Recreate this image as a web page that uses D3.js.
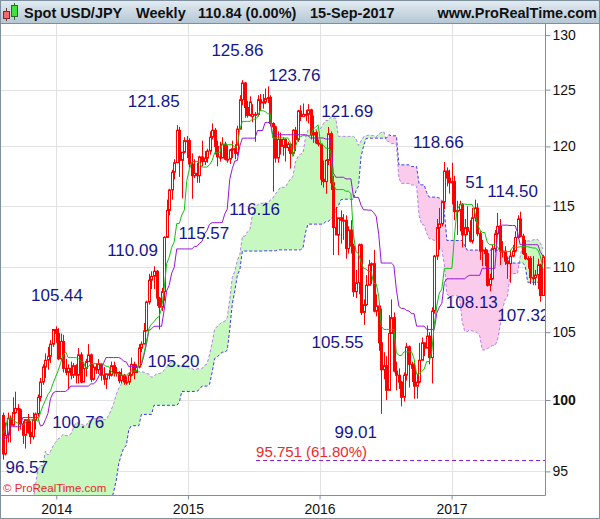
<!DOCTYPE html>
<html>
<head>
<meta charset="utf-8">
<script src="https://cdn.jsdelivr.net/npm/d3@7"></script>
<style>
  body { margin: 0; background: #fff; }
  svg { display: block; font-family: "Liberation Sans", Arial, sans-serif; }
</style>
</head>
<body>
<script>
// weekly bars, one per Monday, Aug 2013 - Sep 2017
var weeks = d3.timeMonday.range(new Date(2013, 7, 5), new Date(2017, 8, 12));

var opens = [
  98.9, 96.2, 97.5, 98.7, 98.2, 99.1, 99.4, 99.3, 98.3, 97.5, 98.6, 97.7, 97.4, 98.6, 99.0, 100.2, 101.3, 102.4, 102.9, 103.2, 104.1, 105.2,
  104.9, 103.0, 104.3, 102.3, 102.0, 102.3, 101.8, 102.5, 101.8, 103.3, 101.3, 102.3, 102.8, 103.3, 101.5, 102.4, 102.2, 102.6, 101.8, 101.5, 101.9, 101.8, 102.5, 102.0, 102.0, 101.4, 101.8, 101.3, 101.3, 101.8, 102.6, 102.0, 102.4, 103.8, 104.1, 105.1, 107.3, 109.0, 109.3, 109.7, 107.6, 106.9, 108.1, 112.4, 114.6, 116.3, 117.8, 118.6, 121.4, 118.8, 119.5, 120.5,
  120.5, 118.5, 117.5, 117.7, 117.5, 119.1, 118.7, 119.0, 119.6, 120.8, 121.4, 120.0, 119.1, 119.0, 120.2, 118.9, 118.9, 119.7, 119.8, 119.4, 121.5, 124.1, 125.6, 123.4, 122.7, 122.6, 122.8, 122.8, 124.1, 123.8, 123.9, 124.2, 124.3, 122.0, 121.7, 119.0, 120.6, 120.0, 120.6, 119.9, 120.2, 119.4, 121.4, 120.6, 123.1, 122.6, 122.8, 122.8, 123.2, 121.0, 121.2, 120.3,
  120.2, 117.2, 117.0, 118.8, 121.1, 116.9, 113.2, 112.6, 114.0, 113.8, 113.8, 111.5, 113.0, 111.7, 108.1, 108.8, 111.8, 106.5, 107.1, 108.6, 110.2, 110.3, 106.6, 107.0, 104.2, 102.2, 102.5, 100.7, 104.9, 106.1, 102.1, 101.8, 101.3, 100.2, 101.8, 103.9, 102.6, 102.3, 101.0, 101.3, 102.9, 104.2, 103.8, 104.7, 103.1, 106.6, 110.9, 113.2, 113.5, 115.3, 117.9, 117.3,
  116.9, 117.0, 114.5, 114.6, 115.1, 112.6, 113.2, 112.9, 112.1, 114.0, 114.8, 112.7, 111.3, 111.4, 111.1, 108.6, 109.1, 111.5, 112.7, 113.3, 111.3, 111.3, 110.5, 110.3, 110.9, 111.3, 112.4, 113.9, 112.5, 111.1, 110.7, 110.7, 109.2, 109.2, 109.4, 110.2, 107.8
];
var highs = [
  99.1, 98.4, 99.1, 98.9, 100.2, 100.6, 99.7, 99.4, 98.5, 98.6, 99.0, 98.5, 99.1, 99.1, 100.4, 101.6, 102.6, 103.4, 103.9, 104.4, 105.2, 105.44,
  105.3, 104.9, 104.8, 103.0, 102.6, 102.8, 102.7, 102.6, 103.8, 103.5, 102.7, 103.0, 104.1, 103.4, 102.6, 102.7, 103.0, 102.7, 102.4, 101.9, 102.2, 102.8, 102.8, 102.4, 102.1, 102.3, 101.9, 101.7, 102.0, 103.1, 102.8, 102.6, 104.1, 104.3, 105.7, 107.4, 109.5, 109.7, 110.09, 109.8, 107.7, 108.4, 112.5, 115.5, 116.4, 118.0, 118.9, 121.85, 121.7, 119.5, 120.8, 120.9,
  120.7, 119.4, 118.9, 118.6, 119.2, 120.5, 119.6, 119.8, 121.3, 122.0, 121.6, 120.5, 120.4, 120.8, 120.4, 120.1, 119.8, 120.5, 120.2, 121.8, 124.5, 125.86, 125.7, 124.0, 124.4, 123.7, 123.0, 124.5, 124.6, 124.6, 125.1, 125.3, 124.5, 122.1, 121.8, 121.3, 121.2, 120.8, 120.7, 120.4, 120.3, 121.5, 121.7, 123.2, 123.6, 123.76, 123.2, 123.7, 123.3, 122.7, 121.4, 120.6,
  120.2, 118.8, 118.9, 121.69, 121.3, 117.5, 114.9, 114.0, 114.6, 114.3, 114.2, 113.3, 113.8, 111.9, 109.8, 111.9, 111.9, 107.5, 109.4, 110.6, 110.4, 111.4, 107.9, 107.2, 106.8, 103.5, 103.2, 106.3, 107.5, 106.5, 102.8, 102.3, 101.4, 102.0, 104.2, 104.0, 102.8, 102.7, 101.9, 104.2, 104.6, 104.2, 105.5, 105.0, 106.9, 111.0, 113.9, 114.8, 115.4, 118.66, 118.2, 118.0,
  118.6, 117.5, 115.4, 115.4, 115.2, 113.9, 114.95, 113.8, 114.8, 115.5, 115.2, 112.9, 112.2, 111.6, 111.4, 109.5, 111.8, 113.0, 114.4, 113.9, 112.1, 111.7, 110.8, 111.4, 111.8, 112.9, 114.2, 114.50, 112.7, 112.2, 110.9, 110.9, 110.9, 109.8, 110.7, 110.3, 111.0
];
var lows = [
  95.8, 96.1, 97.0, 97.0, 98.2, 99.0, 97.8, 97.9, 96.9, 96.57, 97.6, 96.9, 97.2, 97.9, 98.8, 99.9, 101.1, 101.6, 102.2, 102.7, 103.9, 104.2,
  102.9, 102.9, 102.0, 101.8, 100.76, 101.5, 101.6, 101.2, 101.2, 101.2, 101.3, 101.7, 102.8, 101.3, 101.4, 101.9, 101.9, 101.4, 101.1, 100.8, 101.5, 101.7, 101.7, 101.7, 101.2, 101.2, 101.1, 101.1, 101.1, 101.7, 101.5, 102.0, 102.3, 103.5, 104.1, 105.1, 107.1, 108.3, 108.3, 107.0, 105.2, 106.6, 107.4, 112.4, 114.2, 115.5, 117.2, 118.6, 117.4, 115.6, 119.4, 119.0,
  118.2, 115.57, 117.3, 116.9, 116.9, 118.3, 118.4, 118.6, 119.3, 120.6, 119.3, 118.3, 118.7, 119.0, 118.8, 118.6, 118.5, 119.0, 118.9, 119.2, 121.5, 123.6, 122.5, 122.5, 122.6, 122.1, 120.4, 122.6, 123.1, 123.3, 123.7, 123.8, 121.8, 116.16, 118.6, 118.6, 119.3, 119.2, 118.7, 119.6, 118.1, 119.2, 119.6, 120.4, 122.2, 122.6, 122.2, 122.0, 120.6, 120.3, 120.2, 120.0,
  116.7, 116.5, 115.98, 118.4, 116.3, 110.98, 112.6, 110.99, 111.9, 112.2, 110.7, 111.1, 111.1, 107.7, 107.6, 107.9, 106.3, 105.55, 107.0, 108.6, 108.7, 106.5, 106.2, 103.6, 99.01, 101.5, 99.99, 100.7, 104.9, 102.0, 100.7, 100.8, 99.55, 99.9, 101.4, 100.9, 101.3, 100.1, 100.1, 101.2, 102.9, 103.2, 103.8, 102.6, 101.2, 106.4, 110.6, 111.4, 113.3, 114.7, 116.6, 116.0,
  115.1, 113.8, 112.6, 112.9, 111.6, 111.6, 112.6, 112.0, 111.9, 113.7, 112.5, 110.6, 110.1, 110.1, 108.5, 108.13, 109.0, 111.2, 112.6, 110.2, 110.8, 110.2, 109.1, 108.8, 110.8, 111.2, 112.3, 112.4, 111.0, 110.6, 109.9, 108.7, 108.6, 108.6, 108.3, 107.32, 107.8
];
var closes = [
  96.2, 97.5, 98.7, 98.2, 99.1, 99.4, 99.3, 98.3, 97.5, 98.6, 97.7, 97.4, 98.6, 99.0, 100.2, 101.3, 102.4, 102.9, 103.2, 104.1, 105.2, 104.9,
  103.0, 104.3, 102.3, 102.0, 102.3, 101.8, 102.5, 101.8, 103.3, 101.3, 102.3, 102.8, 103.3, 101.5, 102.4, 102.2, 102.6, 101.8, 101.5, 101.9, 101.8, 102.5, 102.0, 102.0, 101.4, 101.8, 101.3, 101.3, 101.8, 102.6, 102.0, 102.4, 103.8, 104.1, 105.1, 107.3, 109.0, 109.3, 109.7, 107.6, 106.9, 108.1, 112.4, 114.6, 116.3, 117.8, 118.6, 121.4, 118.8, 119.5, 120.5, 120.5,
  118.5, 117.5, 117.7, 117.5, 119.1, 118.7, 119.0, 119.6, 120.8, 121.4, 120.0, 119.1, 119.0, 120.2, 118.9, 118.9, 119.7, 119.8, 119.4, 121.5, 124.1, 125.6, 123.4, 122.7, 123.9, 122.8, 122.8, 124.1, 123.8, 123.9, 124.2, 124.3, 122.0, 121.7, 119.0, 120.6, 120.0, 120.6, 119.9, 120.2, 119.4, 121.4, 120.6, 123.1, 122.6, 122.8, 122.8, 123.2, 121.0, 121.2, 120.3, 120.2,
  117.2, 117.0, 118.8, 121.1, 116.9, 113.2, 112.6, 114.0, 113.8, 113.8, 111.5, 113.0, 111.7, 108.1, 108.8, 111.8, 106.5, 107.1, 108.6, 110.2, 110.3, 106.6, 107.0, 104.2, 102.2, 102.5, 100.7, 104.9, 106.1, 102.1, 101.8, 101.3, 100.2, 101.8, 103.9, 102.6, 102.3, 101.0, 101.3, 102.9, 104.2, 103.8, 104.7, 103.1, 106.6, 110.9, 113.2, 113.5, 115.3, 117.9, 117.3, 116.9,
  117.0, 114.5, 114.6, 115.1, 112.6, 113.2, 112.9, 112.1, 114.0, 114.8, 112.7, 111.3, 111.4, 111.1, 108.6, 109.1, 111.5, 112.7, 113.3, 111.3, 111.3, 110.5, 110.3, 110.9, 111.3, 112.4, 113.9, 112.5, 111.1, 110.7, 110.7, 109.2, 109.2, 109.4, 110.2, 107.8, 110.84
];

// the 70 weeks before the first bar (Apr 2012 - Jul 2013), only needed for the cloud
var priorHighs = [
  83.0, 82.3, 81.8, 81.7, 80.3, 80.3, 80.3, 80.2, 79.7, 80.0, 79.8, 80.6, 80.6, 80.7, 79.8, 79.1, 78.4, 78.8, 78.7, 79.6,
  79.6, 78.8, 78.9, 78.4, 79.2, 78.1, 78.7, 78.8, 79.6, 80.4, 80.7, 80.6, 81.5, 82.8, 82.5, 82.8, 84.2, 84.6, 86.0, 88.3,
  89.4, 90.2, 90.8, 92.8, 94.1, 94.5, 94.1, 94.8, 96.6, 96.7, 95.8, 94.9, 97.6, 99.9, 99.0, 100.0, 99.2, 102.0, 103.3, 103.7,
  102.5, 100.3, 98.5, 98.8, 99.4, 101.2, 101.5, 101.1, 100.9, 100.0
];
var priorLows = [
  81.6, 80.3, 80.7, 80.1, 79.6, 79.6, 79.0, 79.2, 77.7, 77.9, 78.9, 78.7, 79.3, 79.6, 78.6, 78.0, 77.9, 77.9, 78.2, 78.3,
  78.4, 78.1, 78.0, 77.1, 77.8, 77.4, 77.9, 78.0, 78.4, 79.1, 79.5, 79.1, 79.4, 81.3, 81.7, 81.7, 82.3, 83.3, 84.3, 85.8,
  86.8, 87.8, 88.1, 90.3, 92.2, 92.2, 92.6, 90.9, 92.9, 94.9, 93.8, 92.6, 92.5, 97.4, 95.9, 98.4, 97.0, 98.9, 101.2, 100.8,
  100.0, 96.4, 93.8, 94.2, 97.1, 98.6, 98.3, 98.9, 98.0, 97.6
];

var yTicks = [95, 100, 105, 110, 115, 120, 125, 130];

// high / low annotations written on the chart
var annTexts = ["125.86", "123.76", "121.85", "121.69", "118.66", "51", "114.50", "116.16", "115.57",
  "110.09", "105.44", "108.13", "107.32", "105.20", "105.55", "100.76", "99.01", "96.57"];
var annPrices = [125.86, 123.76, 121.85, 121.69, 118.66, 115.51, 114.50, 116.16, 115.57,
  110.09, 105.44, 108.13, 107.32, 105.20, 105.55, 100.76, 99.01, 96.57];
var annWeeks = ["2015-06-01", "2015-11-16", "2014-12-01", "2016-01-25", "2016-12-12", "2017-03-06", "2017-07-10", "2015-08-24", "2015-01-12",
  "2014-09-29", "2013-12-30", "2017-04-17", "2017-09-04", "2014-10-13", "2016-05-02", "2014-02-03", "2016-06-20", "2013-10-07"];

var fibLevel = 95.751;
var fibText = "95.751 (61.80%)";
var fibStart = "2015-07-09";

// ---------------------------------------------------------------
var parseDay = d3.timeParse("%Y-%m-%d");
var margin = {top: 24, right: 55, bottom: 24, left: 0};
var width = 545;
var height = 471;

var x = d3.scaleTime()
  .domain([new Date(2013, 6, 29), new Date(2017, 8, 17)])
  .range([0, width]);

var y = d3.scaleLog()
  .domain([93.4, 131.04])
  .range([height, 0]);

// ichimoku: tenkan 9, kijun 26, spans 26 ahead
var nPrior = priorHighs.length;
var allHighs = priorHighs.concat(highs);
var allLows = priorLows.concat(lows);
function midRange(end, n) {
  if (end - n + 1 < 0) return NaN;
  var hi = -Infinity, lo = Infinity;
  for (var k = end - n + 1; k <= end; k++) {
    hi = Math.max(hi, allHighs[k]);
    lo = Math.min(lo, allLows[k]);
  }
  return (hi + lo) / 2;
}

var bars = weeks.map(function(d, i) {
  var j = i + nPrior;
  return {
    date: d,
    o: opens[i], h: highs[i], l: lows[i], c: closes[i],
    tenkan: midRange(j, 9),
    kijun: midRange(j, 26),
    spanA: (midRange(j - 26, 9) + midRange(j - 26, 26)) / 2,
    spanB: midRange(j - 26, 52)
  };
});
var cloud = bars.filter(function(d) { return !isNaN(d.spanA) && !isNaN(d.spanB); });

var chart = d3.select('body')
  .append('svg')
  .attr('width', width + margin.left + margin.right)
  .attr('height', height + margin.top + margin.bottom);

var defs = chart.append('defs');
var grad = defs.append('linearGradient').attr('id', 'hdr').attr('x1', 0).attr('x2', 0).attr('y1', 0).attr('y2', 1);
grad.append('stop').attr('offset', '0%').attr('stop-color', '#e3ecf2');
grad.append('stop').attr('offset', '100%').attr('stop-color', '#b3c6d4');

defs.append('clipPath').attr('id', 'plotClip')
  .append('rect').attr('x', 0).attr('y', 0).attr('width', width).attr('height', height);

var xval = function(d) { return x(d.date); };
defs.append('clipPath').attr('id', 'aboveB')
  .append('path').attr('d', d3.area().x(xval).y0(function(d) { return y(d.spanB); }).y1(-10)(cloud));
defs.append('clipPath').attr('id', 'belowB')
  .append('path').attr('d', d3.area().x(xval).y0(function(d) { return y(d.spanB); }).y1(height + 10)(cloud));

// header bar
chart.append('rect').attr('x', 0).attr('y', 0).attr('width', 600).attr('height', margin.top)
  .attr('fill', 'url(#hdr)');
chart.append('line').attr('x1', 0).attr('x2', 600).attr('y1', 23.5).attr('y2', 23.5).attr('stroke', '#7d8f9d');

var icon = chart.append('g');
icon.append('line').attr('x1', 6.5).attr('x2', 6.5).attr('y1', 8).attr('y2', 21).attr('stroke', '#7a2a2a');
icon.append('rect').attr('x', 3.5).attr('y', 11.5).attr('width', 6).attr('height', 7).attr('fill', '#f06a6a').attr('stroke', '#7a2a2a');
icon.append('line').attr('x1', 14.5).attr('x2', 14.5).attr('y1', 3).attr('y2', 20).attr('stroke', '#2a6a2a');
icon.append('rect').attr('x', 11.5).attr('y', 5.5).attr('width', 6).attr('height', 11).attr('fill', '#3fe03f').attr('stroke', '#2a6a2a');

var hdr = chart.append('g').attr('font-size', 14.5).attr('font-weight', 'bold').attr('fill', '#111');
[['Spot USD/JPY', 24], ['Weekly', 136], ['110.84 (0.00%)', 198], ['15-Sep-2017', 310]].forEach(function(t) {
  hdr.append('text').attr('x', t[1]).attr('y', 18).text(t[0]);
});
hdr.append('text').attr('x', 597).attr('y', 18).attr('text-anchor', 'end').text('www.ProRealTime.com');

var main = chart.append('g')
  .attr('transform', 'translate(' + margin.left + ',' + margin.top + ')');

// grid
var yearTicks = x.ticks(d3.timeYear.every(1));
main.append('g').selectAll('line.h').data(yTicks).enter().append('line')
  .attr('x1', 0).attr('x2', width)
  .attr('y1', function(d) { return Math.round(y(d)) + 0.5; })
  .attr('y2', function(d) { return Math.round(y(d)) + 0.5; })
  .attr('stroke', '#e2e2e2');
main.append('g').selectAll('line.v').data(yearTicks).enter().append('line')
  .attr('y1', 0).attr('y2', height)
  .attr('x1', function(d) { return Math.round(x(d)) + 0.5; })
  .attr('x2', function(d) { return Math.round(x(d)) + 0.5; })
  .attr('stroke', '#e2e2e2');

var plot = main.append('g').attr('clip-path', 'url(#plotClip)');

// kumo
var band = d3.area().x(xval)
  .y0(function(d) { return y(d.spanA); })
  .y1(function(d) { return y(d.spanB); });
plot.append('path').attr('d', band(cloud)).attr('fill', '#c6f8c0').attr('clip-path', 'url(#aboveB)');
plot.append('path').attr('d', band(cloud)).attr('fill', '#fbcbec').attr('clip-path', 'url(#belowB)');
plot.append('path')
  .attr('d', d3.line().x(xval).y(function(d) { return y(d.spanA); })(cloud))
  .attr('fill', 'none').attr('stroke', '#b77ee8').attr('stroke-dasharray', '3,2');
plot.append('path')
  .attr('d', d3.line().x(xval).y(function(d) { return y(d.spanB); })(cloud))
  .attr('fill', 'none').attr('stroke', '#3b3bea').attr('stroke-dasharray', '3,2');

// fibonacci level
var fy = Math.round(y(fibLevel)) + 0.5;
plot.append('line').attr('x1', x(parseDay(fibStart))).attr('x2', width)
  .attr('y1', fy).attr('y2', fy)
  .attr('stroke', '#8a1ec8').attr('stroke-dasharray', '4,3');
plot.append('text').attr('x', x(parseDay(fibStart))).attr('y', fy - 3.5)
  .attr('font-size', 15).attr('fill', '#f0282a').text(fibText);

// candles
var cx = function(d) { return Math.round(x(d.date)) + 0.5; };
plot.append('g').selectAll('line').data(bars).enter().append('line')
  .attr('x1', cx).attr('x2', cx)
  .attr('y1', function(d) { return y(d.h); })
  .attr('y2', function(d) { return y(d.l); })
  .attr('stroke', '#ff0000');
plot.append('g').selectAll('rect').data(bars).enter().append('rect')
  .attr('x', function(d) { return cx(d) - 1; })
  .attr('width', 2)
  .attr('y', function(d) { return y(Math.max(d.o, d.c)); })
  .attr('height', function(d) { return Math.max(1, Math.abs(y(d.o) - y(d.c))); })
  .attr('fill', function(d) { return d.c >= d.o ? '#ffffff' : '#ff0000'; })
  .attr('stroke', '#ff0000');

// tenkan / kijun
plot.append('path')
  .attr('d', d3.line().defined(function(d) { return !isNaN(d.kijun); }).x(xval).y(function(d) { return y(d.kijun); })(bars))
  .attr('fill', 'none').attr('stroke', '#9a14d2');
plot.append('path')
  .attr('d', d3.line().defined(function(d) { return !isNaN(d.tenkan); }).x(xval).y(function(d) { return y(d.tenkan); })(bars))
  .attr('fill', 'none').attr('stroke', '#10c010');

// annotations
var annOffsets = [[-5, -24], [-8.5, -22.5], [-23, -18], [19, -10], [-6, -14], [0, -11.5], [-7.5, -14.5], [-18, 23.5], [12, 40],
  [-21.5, -10], [1.5, -25], [-18, 17], [-17, 19], [14.5, 37.5], [-26, 23], [10, 38.5], [-25.5, 24], [1.5, 24.5]];
plot.append('g').selectAll('text').data(annTexts).enter().append('text')
  .attr('x', function(d, i) { return x(parseDay(annWeeks[i])) + annOffsets[i][0]; })
  .attr('y', function(d, i) { return y(annPrices[i]) + annOffsets[i][1]; })
  .attr('text-anchor', 'middle')
  .attr('font-size', 17)
  .attr('fill', '#16168c')
  .text(function(d) { return d; });

plot.append('text').attr('x', 3).attr('y', height - 3)
  .attr('font-size', 11.5).attr('fill', '#e8262b').text('\u00a9 ProRealTime.com');

// frame
main.append('path')
  .attr('d', 'M' + (width + 0.5) + ',0V' + (height + 0.5) + 'H0')
  .attr('fill', 'none').attr('stroke', '#7f909e');

// axes
var yaxis = d3.axisRight(y).tickValues(yTicks).tickFormat(d3.format('d')).tickSize(5).tickPadding(2);
main.append('g')
  .attr('transform', 'translate(' + (width + 0.5) + ',0)')
  .call(yaxis)
  .attr('font-size', 14).attr('font-family', null)
  .call(function(g) {
    g.select('.domain').remove();
    g.selectAll('line').attr('stroke', '#7f909e');
    g.selectAll('text').attr('fill', '#111')
      .attr('font-weight', function(d) { return d === 100 ? 'bold' : 'normal'; });
  });

var xaxis = d3.axisBottom(x).ticks(d3.timeYear.every(1)).tickFormat(d3.timeFormat('%Y')).tickSize(4).tickPadding(5);
main.append('g')
  .attr('transform', 'translate(0,' + (height + 0.5) + ')')
  .call(xaxis)
  .attr('font-size', 14).attr('font-family', null)
  .call(function(g) {
    g.select('.domain').remove();
    g.selectAll('line').attr('stroke', '#7f909e');
    g.selectAll('text').attr('fill', '#111');
  });

// outer border
chart.append('rect').attr('x', 0.5).attr('y', 0.5).attr('width', 599).attr('height', 518)
  .attr('fill', 'none').attr('stroke', '#7f909e');
</script>
</body>
</html>
